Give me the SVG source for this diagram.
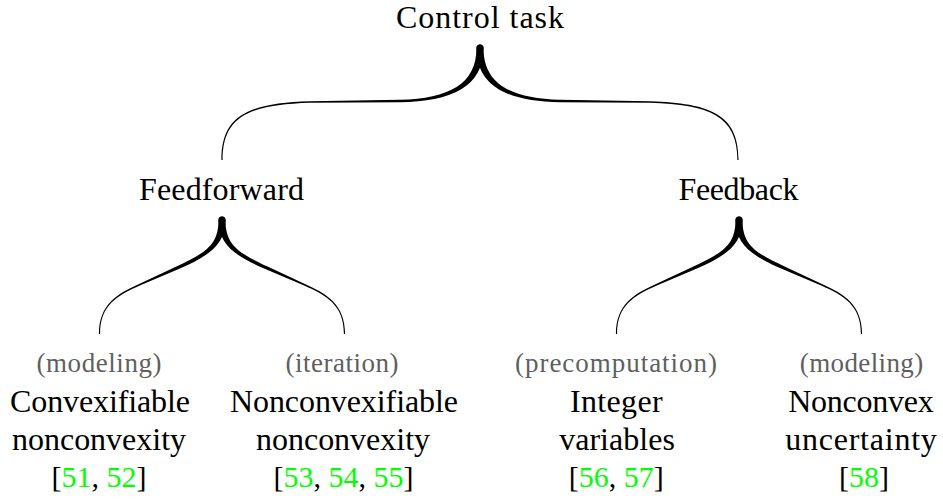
<svg xmlns="http://www.w3.org/2000/svg" width="943" height="502" viewBox="0 0 943 502">
<defs>
<path id="bigHalf" fill="#000" d="M-258.6,160 C-258.6,114.4 -230.5,103.3 -170,101.3 L-80,99.8 C-31,98.6 -3.5,84 -3.5,48 A3.5,3.5 0 0 1 3.5,48 C3.5,87 -29,101.6 -80,102.2 L-170,102.7 C-229.5,104.7 -257.4,115.6 -257.4,160 Z"/>
<path id="smallHalf" fill="#000" d="M-123.1,334 C-123.1,305 -105.4,293.9 -82.4,283.7 L-45.6,266.5 C-15.9,252.6 -3.5,245 -3.5,220 A3.5,3.5 0 0 1 3.5,220 C3.5,245 -14.1,256.6 -44.4,269.5 L-81.6,285.3 C-104.6,295.5 -121.9,305 -121.9,334 Z"/>
</defs>
<rect width="943" height="502" fill="#fff"/>
<g id="connectors">
<use href="#bigHalf" transform="translate(480,0)"/>
<use href="#bigHalf" transform="translate(480,0) scale(-1,1)"/>
<use href="#smallHalf" transform="translate(222,0)"/>
<use href="#smallHalf" transform="translate(222,0) scale(-1,1)"/>
<use href="#smallHalf" transform="translate(739,0)"/>
<use href="#smallHalf" transform="translate(739,0) scale(-1,1)"/>
</g>
<g id="nodes" font-family="Liberation Serif" text-anchor="middle" fill="#000">
<g id="n-control" font-size="32">
<text x="480" y="28" textLength="168">Control task</text>
</g>
<g id="n-feedforward" font-size="32">
<text x="221.5" y="200" textLength="165">Feedforward</text>
</g>
<g id="n-feedback" font-size="32">
<text x="738.5" y="200" textLength="120">Feedback</text>
</g>
<g id="n-convexifiable" font-size="32">
<text x="99" y="372" font-size="27" fill="#5f5f5f" textLength="125">(modeling)</text>
<text x="100" y="412" textLength="180">Convexifiable</text>
<text x="99" y="450" textLength="174">nonconvexity</text>
<text x="99" y="487" font-size="30">[<tspan fill="#00ff00">51</tspan>, <tspan fill="#00ff00">52</tspan>]</text>
</g>
<g id="n-nonconvexifiable" font-size="32">
<text x="342" y="372" font-size="27" fill="#5f5f5f" textLength="113">(iteration)</text>
<text x="344" y="412" textLength="228">Nonconvexifiable</text>
<text x="343" y="450" textLength="174">nonconvexity</text>
<text x="343.5" y="487" font-size="30">[<tspan fill="#00ff00">53</tspan>, <tspan fill="#00ff00">54</tspan>, <tspan fill="#00ff00">55</tspan>]</text>
</g>
<g id="n-integer" font-size="32">
<text x="616" y="372" font-size="27" fill="#5f5f5f" textLength="202">(precomputation)</text>
<text x="616.3" y="412" textLength="92.7">Integer</text>
<text x="617" y="450" textLength="115.7">variables</text>
<text x="616.3" y="487" font-size="30">[<tspan fill="#00ff00">56</tspan>, <tspan fill="#00ff00">57</tspan>]</text>
</g>
<g id="n-uncertainty" font-size="32">
<text x="861.5" y="372" font-size="27" fill="#5f5f5f" textLength="123.3">(modeling)</text>
<text x="861" y="412" textLength="145.7">Nonconvex</text>
<text x="861" y="450" textLength="151.7">uncertainty</text>
<text x="864" y="487" font-size="30">[<tspan fill="#00ff00">58</tspan>]</text>
</g>
</g>
</svg>
